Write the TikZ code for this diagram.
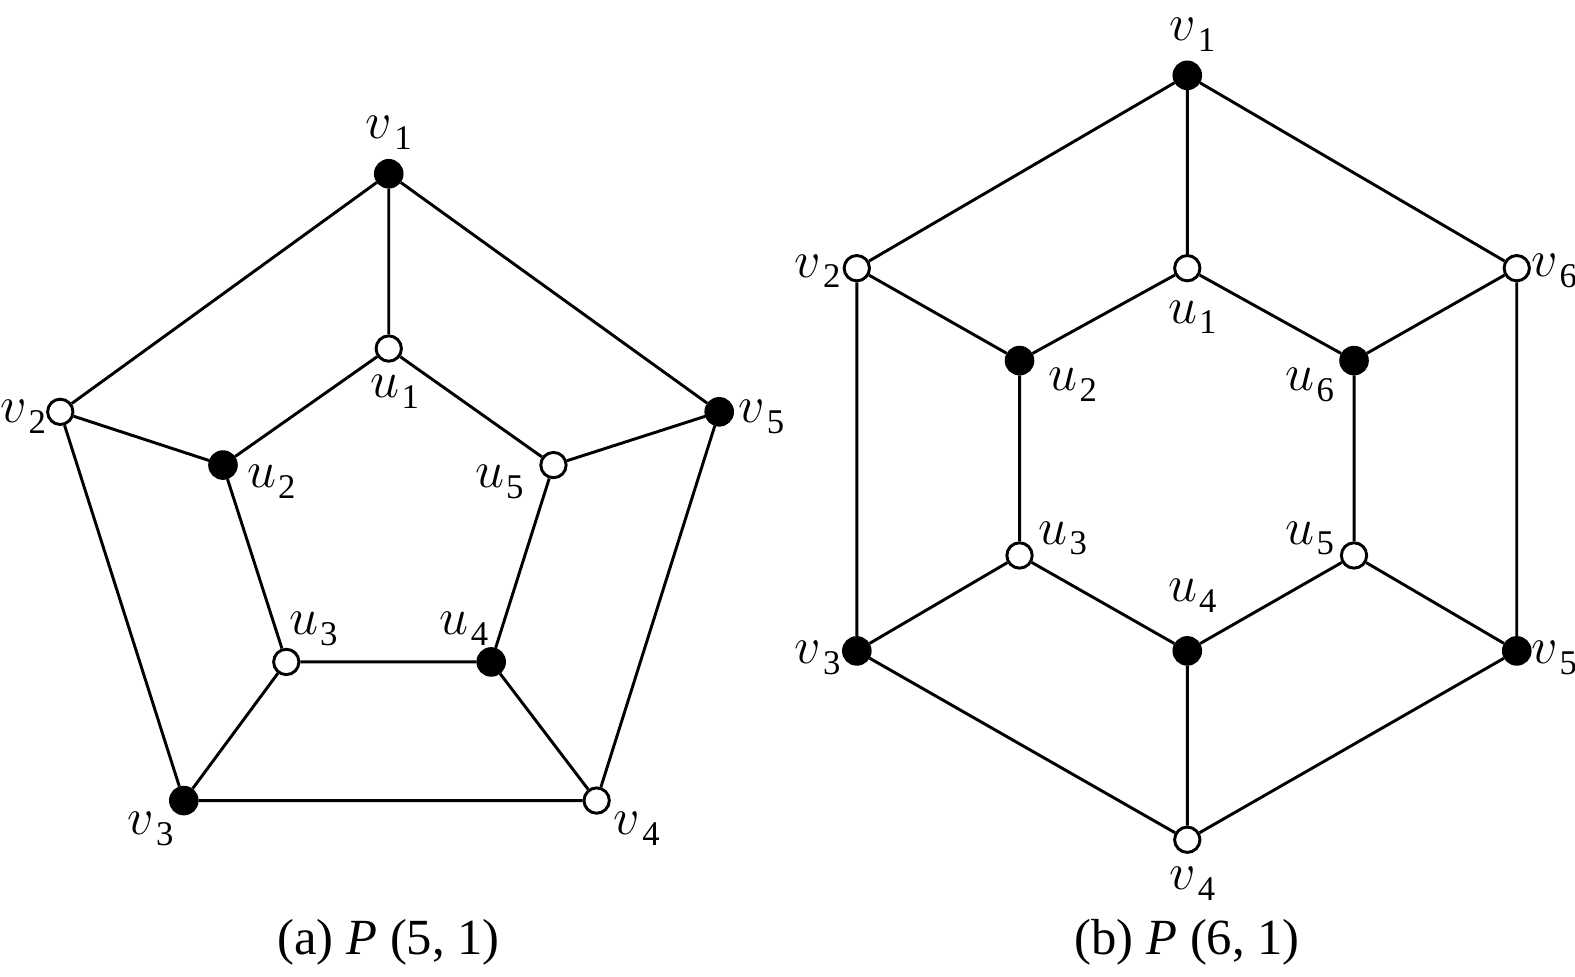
\RequirePackage{fix-cm}
\documentclass[tikz,border=0pt]{standalone}
\usepackage{fontspec}
\setmainfont{Liberation Serif}
\newcommand{\lbl}[2]{$#1$\kern1.5pt\raisebox{-0.45ex}{\fontsize{26}{28}\selectfont #2}}
\begin{document}
\begin{tikzpicture}[x=0.7534pt,y=-0.7534pt,
  edge/.style={line width=2.2pt},
  full/.style={circle,draw,fill=black,line width=2.2pt,minimum size=20pt,inner sep=0pt},
  empty/.style={circle,draw,fill=white,line width=2.2pt,minimum size=19pt,inner sep=0pt},
  lab/.style={font=\fontsize{39}{42}\selectfont,inner sep=0pt},
  captext/.style={font=\fontsize{38}{40}\selectfont,inner sep=0pt}]
\useasboundingbox (0,0) rectangle (1568,972);
% (a) P(5,1)
\node[full]  (av1) at (387,173) {};
\node[empty] (au1) at (387,347) {};
\node[empty] (av2) at (60,410) {};
\node[full]  (av5) at (716,410) {};
\node[full]  (au2) at (222,463) {};
\node[empty] (au5) at (551,463) {};
\node[empty] (au3) at (285,659) {};
\node[full]  (au4) at (489,659) {};
\node[full]  (av3) at (183,797) {};
\node[empty] (av4) at (594,797) {};
\draw[edge] (av1) -- (av2) (av2) -- (av3) (av3) -- (av4) (av4) -- (av5) (av5) -- (av1);
\draw[edge] (au1) -- (au2) (au2) -- (au3) (au3) -- (au4) (au4) -- (au5) (au5) -- (au1);
\draw[edge] (av1) -- (au1) (av2) -- (au2) (av3) -- (au3) (av4) -- (au4) (av5) -- (au5);
\node[lab] (lav1) at (387,132) {\lbl{v}{1}};
\node[lab] (lau1) at (393,390) {\lbl{u}{1}};
\node[lab] (lav2) at (23,415) {\lbl{v}{2}};
\node[lab] (lav5) at (758,415) {\lbl{v}{5}};
\node[lab] (lau2) at (270,480) {\lbl{u}{2}};
\node[lab] (lau5) at (497,480) {\lbl{u}{5}};
\node[lab] (lau3) at (312,626) {\lbl{u}{3}};
\node[lab] (lau4) at (462,626) {\lbl{u}{4}};
\node[lab] (lav3) at (150,825) {\lbl{v}{3}};
\node[lab] (lav4) at (634,825) {\lbl{v}{4}};
\node[captext] (capa) at (387,938) {(a) \textit{P} (5, 1)};
% (b) P(6,1)
\node[full]  (bv1) at (1182,75) {};
\node[empty] (bu1) at (1182,267) {};
\node[empty] (bv2) at (853,267) {};
\node[empty] (bv6) at (1510,267) {};
\node[full]  (bu2) at (1015,359) {};
\node[full]  (bu6) at (1348,359) {};
\node[empty] (bu3) at (1015,553) {};
\node[empty] (bu5) at (1348,553) {};
\node[full]  (bv3) at (853,648) {};
\node[full]  (bv5) at (1510,648) {};
\node[full]  (bu4) at (1182,648) {};
\node[empty] (bv4) at (1182,836) {};
\draw[edge] (bv1) -- (bv2) (bv2) -- (bv3) (bv3) -- (bv4) (bv4) -- (bv5) (bv5) -- (bv6) (bv6) -- (bv1);
\draw[edge] (bu1) -- (bu2) (bu2) -- (bu3) (bu3) -- (bu4) (bu4) -- (bu5) (bu5) -- (bu6) (bu6) -- (bu1);
\draw[edge] (bv1) -- (bu1) (bv2) -- (bu2) (bv3) -- (bu3) (bv4) -- (bu4) (bv5) -- (bu5) (bv6) -- (bu6);
\node[lab] (lbv1) at (1187,35) {\lbl{v}{1}};
\node[lab] (lbv2) at (814,270) {\lbl{v}{2}};
\node[lab] (lbu1) at (1187,316) {\lbl{u}{1}};
\node[lab] (lbv6) at (1547,270) {\lbl{v}{6}};
\node[lab] (lbu2) at (1068,383) {\lbl{u}{2}};
\node[lab] (lbu6) at (1304,383) {\lbl{u}{6}};
\node[lab] (lbu3) at (1058,536) {\lbl{u}{3}};
\node[lab] (lbu5) at (1304,536) {\lbl{u}{5}};
\node[lab] (lbu4) at (1187,593) {\lbl{u}{4}};
\node[lab] (lbv3) at (814,655) {\lbl{v}{3}};
\node[lab] (lbv5) at (1547,655) {\lbl{v}{5}};
\node[lab] (lbv4) at (1187,880) {\lbl{v}{4}};
\node[captext] (capb) at (1182,938) {(b) \textit{P} (6, 1)};
\end{tikzpicture}
\end{document}
